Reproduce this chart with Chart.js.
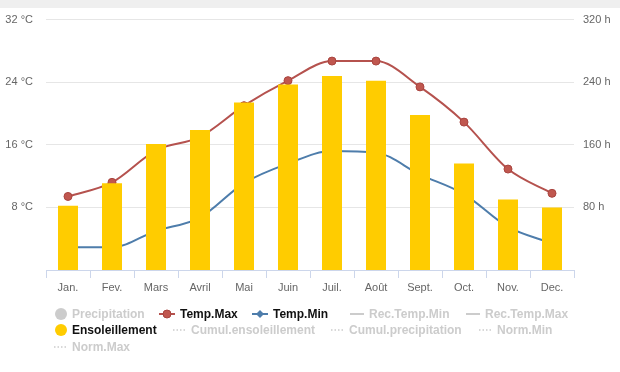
<!DOCTYPE html>
<html>
<head>
<meta charset="utf-8">
<script src="https://cdn.jsdelivr.net/npm/chart.js@4.4.0/dist/chart.umd.min.js"></script>
<style>
    body { margin: 0; background: #fff; font-family: 'Liberation Sans', Arial, sans-serif; }
    #top-band { position: absolute; left: 0; top: 0; width: 620px; height: 8px; background: #efefef; }
    #wrap { position: absolute; left: 0; top: 0; width: 620px; height: 300px; }
    #legend { position: absolute; left: 0; top: 0; width: 620px; height: 372px; pointer-events: none; }
    .item { position: absolute; font-size: 12px; font-weight: bold; white-space: nowrap; line-height: 14px; }
    .item svg { position: absolute; top: 0; }
</style>
</head>
<body>
<div id="top-band"></div>
<div id="wrap"><canvas id="chart" width="620" height="300"></canvas></div>
<div id="legend"></div>
<script>
const months = ['Jan.', 'Fev.', 'Mars', 'Avril', 'Mai', 'Juin', 'Juil.', 'Août', 'Sept.', 'Oct.', 'Nov.', 'Dec.'];
const sunHours = [82, 111, 161, 179, 214, 237, 248, 242, 198, 136, 90, 80];
const tempMax = [9.4, 11.2, 15.3, 17.0, 21.0, 24.2, 26.7, 26.7, 23.4, 18.9, 12.9, 9.8];
const tempMin = [2.9, 2.9, 5.0, 6.7, 11.1, 13.6, 15.2, 15.0, 12.2, 9.7, 5.5, 3.4];

const tempTicks = [8, 16, 24, 32];
const hourTicks = [80, 160, 240, 320];

// legend entries: name, symbol kind, active or greyed
const legendNames = ['Precipitation', 'Temp.Max', 'Temp.Min', 'Rec.Temp.Min', 'Rec.Temp.Max',
    'Ensoleillement', 'Cumul.ensoleillement', 'Cumul.precipitation', 'Norm.Min', 'Norm.Max'];
const legendSymbols = ['dot', 'lineCircle', 'lineDiamond', 'line', 'line',
    'dot', 'dotted', 'dotted', 'dotted', 'dotted'];
const legendActive = [false, true, true, false, false, true, false, false, false, false];
const legendX = [72, 180, 273, 369, 485, 72, 191, 349, 497, 72];
const legendY = [307, 307, 307, 307, 307, 323, 323, 323, 323, 340];

const maxColor = '#b5524e';
const minColor = '#4e7dab';
const sunColor = '#ffcc00';
const grey = '#cccccc';

Chart.defaults.font.family = "'Liberation Sans', Arial, sans-serif";

new Chart(document.getElementById('chart'), {
    type: 'bar',
    data: {
        labels: months,
        datasets: [{
            label: 'Ensoleillement',
            data: sunHours,
            yAxisID: 'yH',
            backgroundColor: sunColor,
            categoryPercentage: 1,
            barPercentage: 20 / 44,
            order: 0
        }, {
            type: 'line',
            label: 'Temp.Max',
            data: tempMax,
            yAxisID: 'yT',
            borderColor: maxColor,
            backgroundColor: '#c0574f',
            pointBorderColor: '#a9443f',
            pointBorderWidth: 1,
            pointRadius: 4,
            borderWidth: 2,
            cubicInterpolationMode: 'monotone',
            order: 1
        }, {
            type: 'line',
            label: 'Temp.Min',
            data: tempMin,
            yAxisID: 'yT',
            borderColor: minColor,
            pointRadius: 0,
            borderWidth: 2,
            cubicInterpolationMode: 'monotone',
            order: 1
        }]
    },
    options: {
        responsive: false,
        animation: false,
        layout: { padding: { top: 16, left: 0, right: 0, bottom: 0 } },
        plugins: { legend: { display: false }, tooltip: { enabled: false } },
        scales: {
            x: {
                grid: { offset: true, drawOnChartArea: false, tickLength: 8, color: '#ccd6eb' },
                border: { color: '#ccd6eb' },
                ticks: { color: '#666', font: { size: 11 }, padding: 3, maxRotation: 0 },
                afterFit: s => { s.height = 30; }
            },
            yT: {
                position: 'left',
                min: 0,
                max: 32,
                afterBuildTicks: s => { s.ticks = [0].concat(tempTicks).map(v => ({ value: v })); },
                ticks: { color: '#666', font: { size: 11 }, padding: 13,
                    callback: v => v === 0 ? null : v + ' °C' },
                grid: { color: '#e6e6e6', drawTicks: false },
                border: { display: false },
                afterFit: s => { s.width = 46; }
            },
            yH: {
                position: 'right',
                min: 0,
                max: 320,
                afterBuildTicks: s => { s.ticks = [0].concat(hourTicks).map(v => ({ value: v })); },
                ticks: { color: '#666', font: { size: 11 }, padding: 9,
                    callback: v => v === 0 ? null : v + ' h' },
                grid: { drawOnChartArea: false, drawTicks: false },
                border: { display: false },
                afterFit: s => { s.width = 46; }
            }
        }
    }
});

function symbolSvg(kind, color) {
    let body = '';
    if (kind === 'dot') {
        body = `<circle cx="8" cy="7" r="6" fill="${color}"/>`;
    } else if (kind === 'line') {
        body = `<line x1="0" y1="7" x2="14" y2="7" stroke="${color}" stroke-width="2"/>`;
    } else if (kind === 'dotted') {
        body = `<line x1="1" y1="7" x2="14" y2="7" stroke="${color}" stroke-width="1.5" stroke-dasharray="1.5,2"/>`;
    } else if (kind === 'lineCircle') {
        body = `<line x1="0" y1="7" x2="16" y2="7" stroke="${color}" stroke-width="2"/>` +
            `<circle cx="8" cy="7" r="4" fill="#c0574f" stroke="#a9443f" stroke-width="1"/>`;
    } else if (kind === 'lineDiamond') {
        body = `<line x1="0" y1="7" x2="16" y2="7" stroke="${color}" stroke-width="2"/>` +
            `<path d="M8 3 L12 7 L8 11 L4 7 Z" fill="${color}"/>`;
    }
    return `<svg width="18" height="14" style="left:-${kind.startsWith('line') && kind !== 'line' ? 21 : 19}px">${body}</svg>`;
}

const legend = document.getElementById('legend');
legendNames.forEach((name, i) => {
    const el = document.createElement('div');
    el.className = 'item';
    el.style.left = legendX[i] + 'px';
    el.style.top = legendY[i] + 'px';
    el.style.color = legendActive[i] ? '#111' : grey;
    let color = grey;
    if (name === 'Temp.Max') color = maxColor;
    if (name === 'Temp.Min') color = minColor;
    if (name === 'Ensoleillement') color = sunColor;
    el.innerHTML = symbolSvg(legendSymbols[i], color) + name;
    legend.appendChild(el);
});
</script>
</body>
</html>
